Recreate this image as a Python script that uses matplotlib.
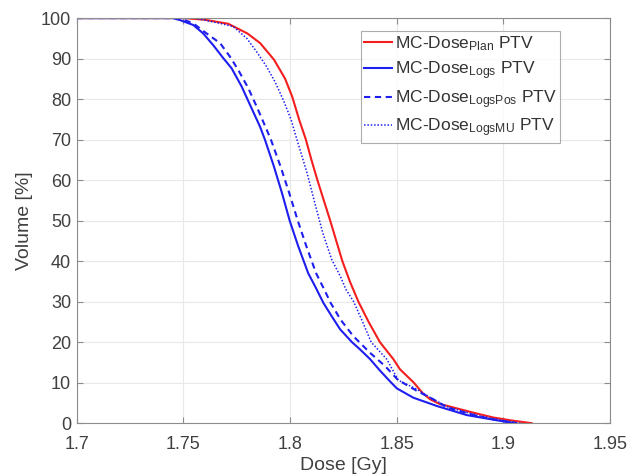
import numpy as np
import matplotlib
matplotlib.use("Agg")
import matplotlib.pyplot as plt

plt.rcParams['font.family'] = ['Liberation Sans', 'DejaVu Sans']
plt.rcParams['mathtext.fontset'] = 'custom'
plt.rcParams['mathtext.rm'] = 'Liberation Sans'
plt.rcParams['mathtext.it'] = 'Liberation Sans:italic'

# DVH curves: dose [Gy], volume [%]
plan_dose = [1.70, 1.75, 1.760, 1.771, 1.780, 1.786, 1.7925, 1.7976, 1.8010, 1.8042, 1.8074,
             1.8100, 1.8128, 1.8188, 1.8245, 1.8280, 1.832, 1.8368, 1.8421, 1.8484,
             1.8515, 1.858, 1.862, 1.8656, 1.8703, 1.8734, 1.8858, 1.8952, 1.9046, 1.9132]
plan_vol = [100, 100, 99.6, 98.6, 96.2, 93.8, 89.7, 85.1, 80.6, 75.0, 70.0,
            65.0, 60.0, 50.0, 40.0, 35.0, 30.0, 25.0, 20.0, 15.8,
            13.3, 10.0, 7.5, 5.9, 4.7, 4.3, 2.6, 1.4, 0.6, 0.0]

logs_dose = [1.70, 1.745, 1.7484, 1.7546, 1.7593, 1.764, 1.7687, 1.7726, 1.7773, 1.7812,
             1.7859, 1.7882, 1.7924, 1.7962, 1.7998, 1.8038, 1.8085, 1.8117, 1.8156,
             1.8195, 1.8234, 1.829, 1.8328, 1.8375, 1.8421, 1.8465, 1.8500, 1.8577,
             1.8690, 1.8828, 1.8937, 1.9015, 1.906]
logs_vol = [100, 100, 99.5, 98.3, 96.2, 93.3, 90.1, 87.6, 83.1, 78.6,
            73.2, 70.0, 63.4, 56.8, 50.0, 43.7, 37.0, 33.8, 29.7,
            26.4, 23.2, 20.0, 18.2, 15.8, 13.0, 10.5, 8.6, 6.3,
            4.2, 2.0, 1.0, 0.3, 0.0]

logspos_dose = [1.70, 1.748, 1.7546, 1.7609, 1.7672, 1.7718, 1.7757, 1.7804, 1.7843, 1.7884,
                1.7910, 1.7955, 1.7996, 1.8036, 1.8076, 1.8122, 1.8160, 1.8190, 1.8236,
                1.8296, 1.8374, 1.8445, 1.8505, 1.8593, 1.8671, 1.8734, 1.889, 1.898, 1.906]
logspos_vol = [100, 100, 98.7, 96.2, 93.8, 90.5, 87.2, 82.7, 78.2, 73.2,
               70.0, 63.4, 56.8, 50.0, 43.7, 37.0, 33.0, 29.7, 25.6,
               21.5, 17.4, 14.1, 10.7, 8.0, 5.9, 3.9, 1.6, 0.7, 0.0]

logsmu_dose = [1.70, 1.755, 1.7672, 1.7734, 1.7797, 1.7843, 1.789, 1.7929, 1.7968, 1.8005,
               1.8032, 1.8080, 1.8120, 1.8153, 1.8195, 1.8235, 1.8262, 1.8298, 1.8335,
               1.838, 1.8453, 1.8507, 1.8593, 1.8671, 1.874, 1.887, 1.897, 1.908]
logsmu_vol = [100, 100, 98.7, 97.9, 95.0, 91.7, 88.0, 84.3, 79.8, 74.9,
              70.0, 61.7, 53.5, 47.0, 40.4, 36.3, 33.0, 30.0, 25.6,
              20.0, 15.8, 10.6, 8.4, 5.9, 4.0, 2.0, 0.9, 0.0]

x_ticks = [1.7, 1.75, 1.8, 1.85, 1.9, 1.95]
y_ticks = np.arange(0, 101, 10)

fig = plt.figure(figsize=(6.29, 4.76), dpi=100)
ax = fig.add_axes([0.122, 0.111, 0.848, 0.851])

red = '#f51e1e'
blue = '#1e1ef0'
ax.plot(plan_dose, plan_vol, color=red, lw=1.5, label=r'MC-Dose$_{\mathrm{Plan}}$ PTV')
ax.plot(logs_dose, logs_vol, color=blue, lw=1.5, label=r'MC-Dose$_{\mathrm{Logs}}$ PTV')
ax.plot(logspos_dose, logspos_vol, color=blue, lw=1.5, ls=(0, (3, 2.2)),
        label=r'MC-Dose$_{\mathrm{LogsPos}}$ PTV')
ax.plot(logsmu_dose, logsmu_vol, color=blue, lw=1.1, ls=(0, (1, 1.2)),
        label=r'MC-Dose$_{\mathrm{LogsMU}}$ PTV')

ax.set_xlim(1.7, 1.95)
ax.set_ylim(0, 100)
ax.set_xticks(x_ticks)
ax.set_xticklabels([f'{t:g}' for t in x_ticks])
ax.set_yticks(y_ticks)
ax.grid(True, color='#e8e8e8', lw=0.8)
ax.set_axisbelow(True)
for s in ax.spines.values():
    s.set_color('#8c8c8c')
    s.set_linewidth(0.8)
ax.tick_params(direction='in', top=True, right=True, length=4, color='#8c8c8c',
               labelsize=13, labelcolor='#404040')
ax.tick_params(axis='x', pad=9)
ax.tick_params(axis='y', pad=4)
ax.set_xlabel('Dose [Gy]', fontsize=14, color='#404040', labelpad=3)
ax.set_ylabel('Volume [%]', fontsize=14, color='#404040', labelpad=6)

leg = ax.legend(loc='upper right', bbox_to_anchor=(0.906, 0.968), fontsize=12.5,
                frameon=True, fancybox=False, edgecolor='#999999', handlelength=1.6,
                handletextpad=0.15, borderpad=0.2, labelspacing=0.35, borderaxespad=0)
leg.get_frame().set_linewidth(0.8)
for t in leg.get_texts():
    t.set_color('#333333')

fig.savefig('out.png', dpi=100)
